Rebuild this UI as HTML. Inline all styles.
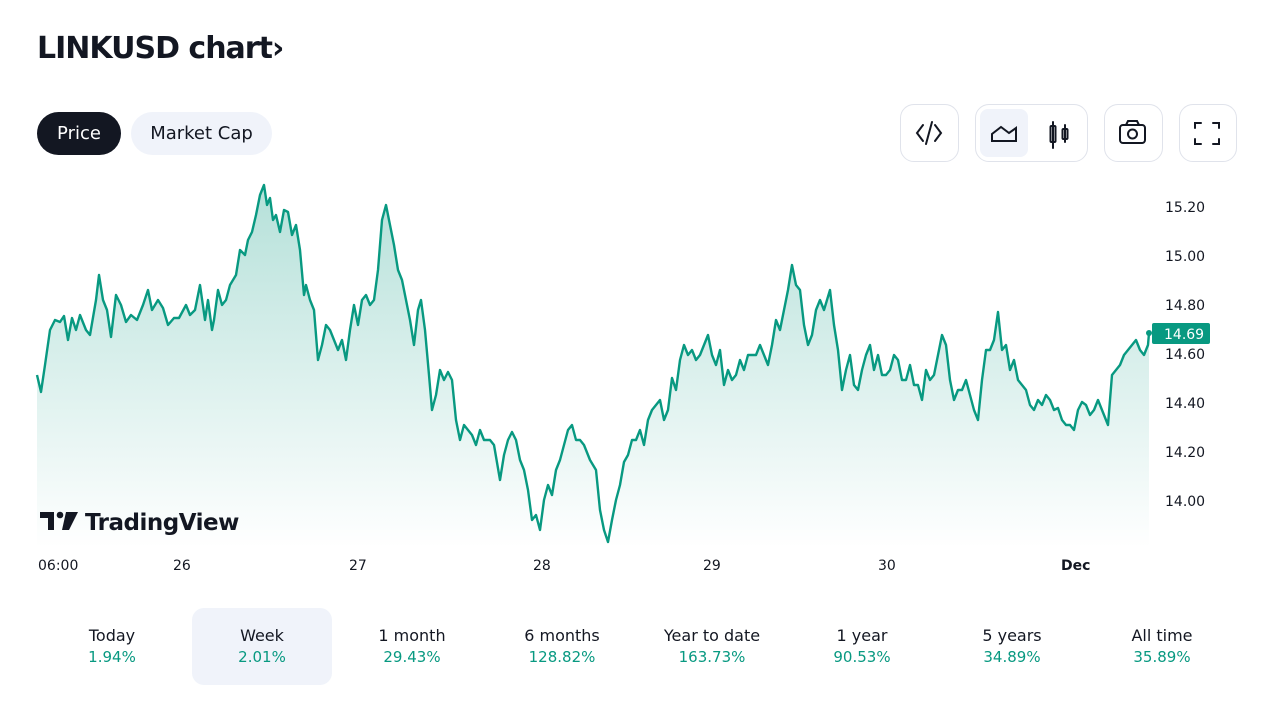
<!DOCTYPE html>
<html><head><meta charset="utf-8"><style>
*{margin:0;padding:0;box-sizing:border-box}
body{width:1280px;height:720px;background:#fff;font-family:"DejaVu Sans","Liberation Sans",sans-serif;color:#131722;position:relative;overflow:hidden}
.abs{position:absolute}
h1{position:absolute;left:37px;top:31px;font-size:30px;font-weight:bold;letter-spacing:-1px}
.pill{position:absolute;top:112px;height:43px;border-radius:22px;font-size:18px;line-height:43px;text-align:center}
.btn{position:absolute;top:104px;height:58px;border:1px solid #e0e3eb;border-radius:14px}
.tab{position:absolute;top:608px;width:140px;height:77px;text-align:center;border-radius:12px}
.tab .a{font-size:16px;margin-top:18px}
.tab .b{font-size:15px;color:#089981;margin-top:3px}
.yl{position:absolute;left:1165px;font-size:14px;color:#131722}
.xl{position:absolute;top:558px;font-size:14px;color:#131722}
</style></head><body>
<h1>LINKUSD chart›</h1>
<div class="pill" style="left:37px;width:84px;background:#131722;color:#fff">Price</div>
<div class="pill" style="left:131px;width:141px;background:#f0f3fa">Market Cap</div>

<div class="btn" style="left:900px;width:59px"></div>
<div class="btn" style="left:975px;width:113px"></div>
<div class="abs" style="left:980px;top:109px;width:48px;height:48px;background:#f0f3fa;border-radius:8px"></div>
<div class="btn" style="left:1104px;width:59px"></div>
<div class="btn" style="left:1179px;width:58px"></div>
<svg class="abs" style="left:0;top:0" width="1280" height="200" fill="none" stroke="#131722" stroke-width="2" stroke-linecap="round">
<path d="M923 125l-6 8 6 8M935 125l6 8-6 8M932 122l-6 22"/>
<path d="M992 141v-7l9-7 8 6 7-5v13z"/>
<path d="M1053 122v26M1065 125v17"/><rect x="1050.5" y="126" width="5" height="16" rx="1"/><rect x="1062.5" y="129" width="5" height="10" rx="1"/>
<rect x="1120" y="125" width="25" height="18" rx="3"/><path d="M1126 125l2-4h9l2 4"/><circle cx="1132.5" cy="134" r="4.5"/>
<path d="M1195 128v-5h6M1213 123h6v5M1219 139v5h-6M1201 144h-6v-5"/>
</svg>

<svg class="abs" style="left:0;top:0" width="1280" height="600">
<defs><linearGradient id="g" x1="0" y1="0" x2="0" y2="1"><stop offset="0" stop-color="#089981" stop-opacity="0.3"/><stop offset="1" stop-color="#089981" stop-opacity="0"/></linearGradient></defs>
<path id="p" fill="url(#g)" d="M37 375L41 392L45 365L50 330L55 320L60 322L64 316L68 340L72 318L76 330L80 315L86 330L90 335L96 300L99 275L103 300L107 310L111 337L116 295L121 305L126 322L131 315L137 320L143 305L148 290L152 310L158 300L163 308L168 325L174 318L179 318L186 305L190 315L195 310L200 285L205 320L208 300L212 330L214 320L218 290L222 305L226 300L230 285L236 275L240 250L245 255L248 240L252 232L256 215L260 195L264 185L267 205L270 198L273 220L276 215L280 232L284 210L288 212L292 235L296 225L300 250L304 295L306 285L310 300L314 310L318 360L322 345L326 325L330 330L334 340L338 350L342 340L346 360L350 330L354 305L358 325L362 300L366 295L370 305L374 300L378 270L382 220L386 205L390 225L394 245L398 270L402 280L406 300L410 320L414 345L418 310L421 300L425 330L429 375L432 410L436 395L440 370L444 380L448 372L452 380L456 420L460 440L464 425L468 430L472 435L476 445L480 430L484 440L490 440L494 445L500 480L504 455L508 440L512 432L516 440L520 460L524 470L528 490L532 520L536 515L540 530L544 500L548 485L552 495L556 470L560 460L564 445L568 430L572 425L576 440L580 440L584 445L590 460L596 470L600 510L604 530L608 542L612 520L616 500L620 485L624 462L628 455L632 440L636 440L640 430L644 445L648 420L652 410L656 405L660 400L664 420L668 410L672 378L676 390L680 360L684 345L688 355L692 350L696 360L700 355L704 345L708 335L712 355L716 365L720 350L724 385L728 370L732 380L736 375L740 360L744 370L748 355L752 355L756 355L760 345L764 355L768 365L772 345L776 320L780 330L784 310L788 290L792 265L796 285L800 290L804 325L808 345L812 335L816 310L820 300L824 310L830 290L834 325L838 350L842 390L846 370L850 355L854 385L858 390L862 370L866 355L870 345L874 370L878 355L882 375L886 375L890 370L894 355L898 360L902 380L906 380L910 365L914 385L918 385L922 400L926 370L930 380L934 375L938 355L942 335L946 345L950 380L954 400L958 390L962 390L966 380L970 395L974 410L978 420L982 380L986 350L990 350L994 340L998 312L1002 350L1006 345L1010 370L1014 360L1018 380L1022 385L1026 390L1030 405L1034 410L1038 400L1042 405L1046 395L1050 400L1054 410L1058 408L1062 420L1066 425L1070 425L1074 430L1078 410L1082 402L1086 405L1090 415L1094 410L1098 400L1102 410L1108 425L1112 375L1116 370L1120 365L1124 355L1128 350L1132 345L1136 340L1140 350L1144 355L1148 345L1149 333L1149 548L37 548Z"/>
<path fill="none" stroke="#089981" stroke-width="2.4" stroke-linejoin="round" d="M37 375L41 392L45 365L50 330L55 320L60 322L64 316L68 340L72 318L76 330L80 315L86 330L90 335L96 300L99 275L103 300L107 310L111 337L116 295L121 305L126 322L131 315L137 320L143 305L148 290L152 310L158 300L163 308L168 325L174 318L179 318L186 305L190 315L195 310L200 285L205 320L208 300L212 330L214 320L218 290L222 305L226 300L230 285L236 275L240 250L245 255L248 240L252 232L256 215L260 195L264 185L267 205L270 198L273 220L276 215L280 232L284 210L288 212L292 235L296 225L300 250L304 295L306 285L310 300L314 310L318 360L322 345L326 325L330 330L334 340L338 350L342 340L346 360L350 330L354 305L358 325L362 300L366 295L370 305L374 300L378 270L382 220L386 205L390 225L394 245L398 270L402 280L406 300L410 320L414 345L418 310L421 300L425 330L429 375L432 410L436 395L440 370L444 380L448 372L452 380L456 420L460 440L464 425L468 430L472 435L476 445L480 430L484 440L490 440L494 445L500 480L504 455L508 440L512 432L516 440L520 460L524 470L528 490L532 520L536 515L540 530L544 500L548 485L552 495L556 470L560 460L564 445L568 430L572 425L576 440L580 440L584 445L590 460L596 470L600 510L604 530L608 542L612 520L616 500L620 485L624 462L628 455L632 440L636 440L640 430L644 445L648 420L652 410L656 405L660 400L664 420L668 410L672 378L676 390L680 360L684 345L688 355L692 350L696 360L700 355L704 345L708 335L712 355L716 365L720 350L724 385L728 370L732 380L736 375L740 360L744 370L748 355L752 355L756 355L760 345L764 355L768 365L772 345L776 320L780 330L784 310L788 290L792 265L796 285L800 290L804 325L808 345L812 335L816 310L820 300L824 310L830 290L834 325L838 350L842 390L846 370L850 355L854 385L858 390L862 370L866 355L870 345L874 370L878 355L882 375L886 375L890 370L894 355L898 360L902 380L906 380L910 365L914 385L918 385L922 400L926 370L930 380L934 375L938 355L942 335L946 345L950 380L954 400L958 390L962 390L966 380L970 395L974 410L978 420L982 380L986 350L990 350L994 340L998 312L1002 350L1006 345L1010 370L1014 360L1018 380L1022 385L1026 390L1030 405L1034 410L1038 400L1042 405L1046 395L1050 400L1054 410L1058 408L1062 420L1066 425L1070 425L1074 430L1078 410L1082 402L1086 405L1090 415L1094 410L1098 400L1102 410L1108 425L1112 375L1116 370L1120 365L1124 355L1128 350L1132 345L1136 340L1140 350L1144 355L1148 345L1149 333"/>
<circle cx="1149" cy="333" r="3" fill="#089981"/>
<rect x="1152" y="323" width="58" height="21" fill="#089981" rx="2"/>
<text x="1164" y="339" font-family="DejaVu Sans,sans-serif" font-size="14" fill="#fff">14.69</text>
<g fill="#131722">
<path d="M40 512h14v18h-6v-12h-8z"/><circle cx="60" cy="515" r="3.3"/><path d="M66 512h12l-9 18h-7z"/>
</g>
<text x="85" y="530" font-family="DejaVu Sans,sans-serif" font-size="23" font-weight="bold" fill="#131722" letter-spacing="-0.5">TradingView</text>
</svg>

<div class="yl" style="top:200px">15.20</div>
<div class="yl" style="top:249px">15.00</div>
<div class="yl" style="top:298px">14.80</div>
<div class="yl" style="top:347px">14.60</div>
<div class="yl" style="top:396px">14.40</div>
<div class="yl" style="top:445px">14.20</div>
<div class="yl" style="top:494px">14.00</div>

<div class="xl" style="left:38px">06:00</div>
<div class="xl" style="left:173px">26</div>
<div class="xl" style="left:349px">27</div>
<div class="xl" style="left:533px">28</div>
<div class="xl" style="left:703px">29</div>
<div class="xl" style="left:878px">30</div>
<div class="xl" style="left:1061px;font-weight:bold">Dec</div>

<div class="tab" style="left:42px"><div class="a">Today</div><div class="b">1.94%</div></div>
<div class="tab" style="left:192px;background:#f0f3fa"><div class="a">Week</div><div class="b">2.01%</div></div>
<div class="tab" style="left:342px"><div class="a">1 month</div><div class="b">29.43%</div></div>
<div class="tab" style="left:492px"><div class="a">6 months</div><div class="b">128.82%</div></div>
<div class="tab" style="left:642px"><div class="a">Year to date</div><div class="b">163.73%</div></div>
<div class="tab" style="left:792px"><div class="a">1 year</div><div class="b">90.53%</div></div>
<div class="tab" style="left:942px"><div class="a">5 years</div><div class="b">34.89%</div></div>
<div class="tab" style="left:1092px"><div class="a">All time</div><div class="b">35.89%</div></div>
</body></html>
